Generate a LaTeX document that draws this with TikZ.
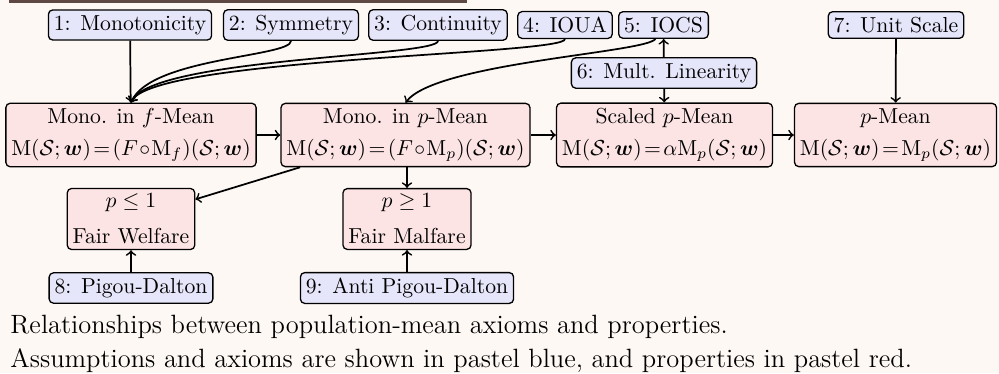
\documentclass[tikz,border=0pt]{standalone}
\usepackage{amsmath,amssymb}
\definecolor{axblue}{RGB}{230,230,250}
\definecolor{prred}{RGB}{253,228,228}
\definecolor{bgcream}{RGB}{253,248,244}
\definecolor{barbrown}{RGB}{94,72,68}
\newcommand{\Sw}{(\mathcal{S};\boldsymbol{w})}
\begin{document}
\begin{tikzpicture}[x=0.4614pt,y=-0.4614pt,
    axiom/.style={draw,fill=axblue,rounded corners=2pt,semithick,inner sep=2.5pt},
    prop/.style={draw,fill=prred,rounded corners=2pt,semithick,inner sep=2.5pt,align=center},
    link/.style={->,thick}]
    \fill[bgcream] (0,0) rectangle (999,373);
    \fill[barbrown] (9,0) rectangle (467,3);
    % axioms on top
    \foreach \name/\x/\txt in {n1/130/1: Monotonicity, n2/291/2: Symmetry, n3/438/3: Continuity,
        n4/565/4: IOUA, n5/663.5/5: IOCS, n7/896/7: Unit Scale}{
        \node[axiom] (\name) at (\x,25) {\txt};
    }
    \node[axiom] (n6) at (664,73) {6: Mult. Linearity};
    % properties
    \node[prop] (fmean) at (131,135) {Mono. in $f$-Mean\\[2.5pt]$\mathrm{M}\Sw\!=\!(F\!\circ\!\mathrm{M}_f)\Sw$};
    \node[prop] (pmono) at (405.5,135) {Mono. in $p$-Mean\\[2.5pt]$\mathrm{M}\Sw\!=\!(F\!\circ\!\mathrm{M}_p)\Sw$};
    \node[prop] (scaled) at (664.5,135) {Scaled $p$-Mean\\[2.5pt]$\mathrm{M}\Sw\!=\!\alpha\mathrm{M}_p\Sw$};
    \node[prop] (pmean) at (895.5,135) {$p$-Mean\\[2.5pt]$\mathrm{M}\Sw\!=\!\mathrm{M}_p\Sw$};
    \node[prop] (welfare) at (131,219) {$p\le 1$\\[4.5pt]Fair Welfare};
    \node[prop] (malfare) at (407,219) {$p\ge 1$\\[4.5pt]Fair Malfare};
    \node[axiom] (n8) at (131,288) {8: Pigou-Dalton};
    \node[axiom] (n9) at (407,288) {9: Anti Pigou-Dalton};
    % connectors
    \draw[link] (n1) -- (fmean);
    \foreach \k in {n2,n3,n4}
        \draw[link] (\k.south) .. controls +(0,16) and +(20,-45) .. (fmean.north);
    \draw[link] (n5.-120) .. controls +(-10,14) and +(30,-40) .. (pmono.north);
    \draw[link] (n6) -- (n5);
    \draw[link] (n6) -- (scaled);
    \draw[link] (n7) -- (pmean);
    \draw[link] (fmean) -- (pmono);
    \draw[link] (pmono) -- (scaled);
    \draw[link] (scaled) -- (pmean);
    \draw[link] (pmono) -- (welfare);
    \draw[link] (pmono.south -| malfare) -- (malfare);
    \draw[link] (n8) -- (welfare);
    \draw[link] (n9) -- (malfare);
    % caption
    \node[anchor=base west,inner sep=0,font=\fontsize{12.2}{14.6}\selectfont] (cap1) at (10,333) {Relationships between population-mean axioms and properties.};
    \node[anchor=base west,inner sep=0,font=\fontsize{12.2}{14.6}\selectfont] (cap2) at (10,367) {Assumptions and axioms are shown in pastel blue, and properties in pastel red.};
\end{tikzpicture}
\end{document}
